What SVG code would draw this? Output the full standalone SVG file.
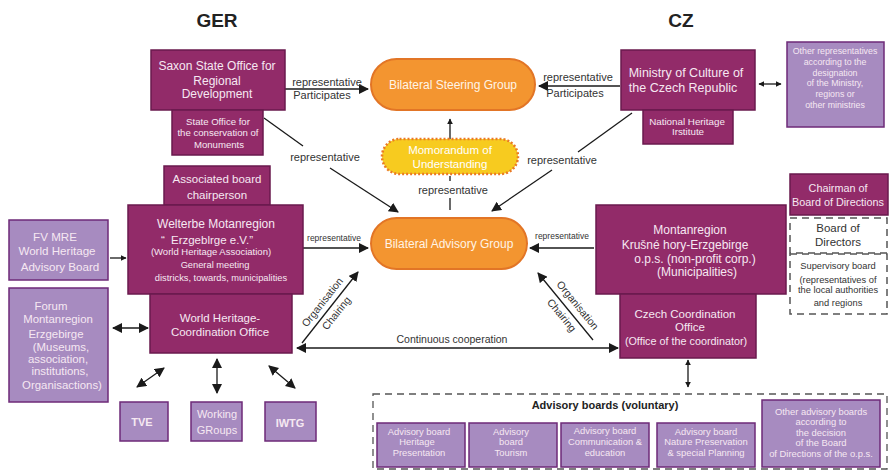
<svg xmlns="http://www.w3.org/2000/svg" width="889" height="471" viewBox="0 0 889 471">
<defs>
<marker id="ah" viewBox="0 0 10 10" refX="9" refY="5" markerWidth="10" markerHeight="10" markerUnits="userSpaceOnUse" orient="auto-start-reverse"><path d="M0,0 L10,5 L0,10 z" fill="#1a1a1a"/></marker>
<marker id="ahs" viewBox="0 0 10 10" refX="9" refY="5" markerWidth="6" markerHeight="6" markerUnits="userSpaceOnUse" orient="auto-start-reverse"><path d="M0,0 L10,5 L0,10 z" fill="#1a1a1a"/></marker>
<style>
text{font-family:"Liberation Sans",Arial,sans-serif;text-anchor:middle}
.dk{fill:#922b69;stroke:#6a1a4e;stroke-width:1.5}
.lt{fill:#a78bc0;stroke:#6e2a78;stroke-width:1.5}
.dash{fill:#fff;stroke:#555;stroke-width:1.5;stroke-dasharray:7,5}
.w{fill:#f6e8f2}
.lbl{fill:#333}
.ln{stroke:#1a1a1a;stroke-width:1.3;fill:none}
.hd{font-weight:bold;font-size:19px;fill:#222}
</style>
</defs>
<rect width="889" height="471" fill="#fff"/>
<text class="hd" x="217" y="27">GER</text>
<text class="hd" x="681" y="27">CZ</text>

<g id="connectors">
<line class="ln" x1="285" y1="89" x2="368" y2="89" marker-end="url(#ah)"/>
<line class="ln" x1="620" y1="86" x2="539" y2="86" marker-end="url(#ah)"/>
<line class="ln" x1="759" y1="84" x2="781" y2="84" marker-start="url(#ahs)" marker-end="url(#ahs)"/>
<line class="ln" x1="450" y1="139" x2="450" y2="119" marker-end="url(#ahs)"/>
<line class="ln" x1="264" y1="118" x2="303" y2="146"/>
<line class="ln" x1="330" y1="168" x2="398" y2="212" marker-end="url(#ah)"/>
<line class="ln" x1="632" y1="113" x2="578" y2="152"/>
<line class="ln" x1="552" y1="170" x2="492" y2="211" marker-end="url(#ah)"/>
<line class="ln" x1="450" y1="176" x2="450" y2="181"/>
<line class="ln" x1="450" y1="198" x2="450" y2="210"/>
<line class="ln" x1="110" y1="258" x2="126" y2="258" marker-end="url(#ahs)"/>
<line class="ln" x1="303" y1="248" x2="368" y2="248" marker-end="url(#ah)"/>
<line class="ln" x1="594" y1="248" x2="530" y2="248" marker-end="url(#ah)"/>
<line class="ln" x1="113" y1="328" x2="148" y2="328" marker-start="url(#ah)" marker-end="url(#ah)"/>
<line class="ln" x1="137" y1="387" x2="164" y2="368" marker-start="url(#ah)" marker-end="url(#ah)"/>
<line class="ln" x1="217" y1="359" x2="217" y2="393" marker-start="url(#ah)" marker-end="url(#ah)"/>
<line class="ln" x1="269" y1="366" x2="295" y2="388" marker-start="url(#ah)" marker-end="url(#ah)"/>
<line class="ln" x1="302" y1="343" x2="358" y2="272" marker-end="url(#ah)"/>
<line class="ln" x1="593" y1="340" x2="538" y2="273" marker-end="url(#ah)"/>
<line class="ln" x1="297" y1="348" x2="618" y2="348" marker-start="url(#ah)" marker-end="url(#ah)"/>
<line class="ln" x1="688" y1="360" x2="688" y2="387" marker-start="url(#ahs)" marker-end="url(#ahs)"/>
<g class="lbl" font-size="11">
<text x="327" y="86">representative</text>
<text x="322" y="99">Participates</text>
<text x="578" y="81">representative</text>
<text x="575" y="97">Participates</text>
<text x="325" y="161">representative</text>
<text x="562" y="164">representative</text>
<text x="453" y="194">representative</text>
<text x="452" y="343" font-size="10.5">Continuous cooperation</text>
</g>
<g class="lbl" font-size="8.5">
<text x="334" y="241">representative</text>
<text x="562" y="239">representative</text>
</g>
<g class="lbl" font-size="10.5">
<text transform="translate(322,302) rotate(-51.7)" x="0" y="4">Organisation</text>
<text transform="translate(336,313) rotate(-51.7)" x="0" y="4">Chairing</text>
<text transform="translate(578,305) rotate(50.6)" x="0" y="4">Organisation</text>
<text transform="translate(562,315) rotate(50.6)" x="0" y="4">Chairing</text>
</g>
</g>

<g id="steering">
<rect x="371" y="59" width="164" height="51" rx="25.5" fill="#f39530" stroke="#e27526" stroke-width="2"/>
<text x="453" y="89" font-size="12" fill="#fff4e6">Bilateral Steering Group</text>
</g>
<g id="memo">
<rect x="382" y="139" width="136" height="35" rx="17.5" fill="#f7cb1f" stroke="#ea7a24" stroke-width="2.5" stroke-dasharray="2,2"/>
<text x="450" y="154" font-size="11.5" fill="#fff">Momorandum of</text>
<text x="450" y="168" font-size="11.5" fill="#fff">Understanding</text>
</g>
<g id="advisory">
<rect x="371" y="218" width="156" height="51" rx="25.5" fill="#f39530" stroke="#e27526" stroke-width="2"/>
<text x="449" y="248" font-size="12" fill="#fff4e6">Bilateral Advisory Group</text>
</g>

<g id="saxon">
<rect class="dk" x="151" y="50" width="134" height="60"/>
<g class="w" font-size="12"><text x="217" y="70">Saxon State Office for</text><text x="217" y="85">Regional</text><text x="217" y="98">Development</text></g>
</g>
<g id="stateoffice">
<rect class="dk" x="172" y="110" width="91" height="45"/>
<g class="w" font-size="9.6"><text x="218" y="125">State Office for</text><text x="218" y="136">the conservation of</text><text x="219" y="148">Monuments</text></g>
</g>
<g id="ministry">
<rect class="dk" x="621" y="50" width="134" height="60"/>
<g class="w" font-size="12.5"><text x="686" y="77">Ministry of Culture of</text><text x="683" y="92">the Czech Republic</text></g>
</g>
<g id="nhi">
<rect class="dk" x="643" y="110" width="90" height="34"/>
<g class="w" font-size="9.8"><text x="687" y="125">National Heritage</text><text x="688" y="135">Irstitute</text></g>
</g>
<g id="otherreps">
<rect class="lt" x="787" y="42" width="97" height="85"/>
<g class="w" font-size="8.8"><text x="835" y="54">Other representatives</text><text x="835" y="65">according to the</text><text x="835" y="76">designation</text><text x="835" y="86">of the Ministry,</text><text x="835" y="97">regions or</text><text x="835" y="108">other ministries</text></g>
</g>

<g id="chairperson">
<rect class="dk" x="164" y="166" width="106" height="39"/>
<g class="w" font-size="11.5"><text x="217" y="183">Associated board</text><text x="217" y="199">chairperson</text></g>
</g>
<g id="welterbe">
<rect class="dk" x="128" y="205" width="175" height="89"/>
<g class="w"><text x="216" y="228" font-size="12">Welterbe Motanregion</text><text x="163" y="244" font-size="11.5">“</text><text x="212" y="244" font-size="11.5">Erzgeblrge e.V.”</text><text x="211" y="255" font-size="9.5">(World Heritage Association)</text><text x="215" y="268" font-size="9.3">General meeting</text><text x="221" y="281" font-size="9.3">districks, towards, municipalities</text></g>
</g>
<g id="fvmre">
<rect class="lt" x="9" y="220" width="99" height="60"/>
<g class="w" font-size="11.6"><text x="55" y="241">FV MRE</text><text x="57" y="255">World Heritage</text><text x="60" y="271">Advisory Board</text></g>
</g>
<g id="whco">
<rect class="dk" x="150" y="294" width="142" height="59"/>
<g class="w" font-size="11.5"><text x="220" y="322">World Heritage-</text><text x="220" y="336">Coordination Office</text></g>
</g>
<g id="forum">
<rect class="lt" x="9" y="288" width="99" height="114"/>
<g class="w" font-size="11.4"><text x="51" y="310">Forum</text><text x="58" y="323">Montanregion</text><text x="56" y="338">Erzgebirge</text><text x="61" y="351">(Museums,</text><text x="58" y="363">association,</text><text x="60" y="375">institutions,</text><text x="62" y="389">Organisactions)</text></g>
</g>
<g id="tve">
<rect class="lt" x="120" y="402" width="48" height="39"/>
<text class="w" x="142" y="426" font-size="11" font-weight="bold">TVE</text>
</g>
<g id="workinggroups">
<rect class="lt" x="191" y="402" width="51" height="39"/>
<g class="w" font-size="11"><text x="217" y="418">Working</text><text x="217" y="434">GRoups</text></g>
</g>
<g id="iwtg">
<rect class="lt" x="265" y="402" width="51" height="39"/>
<text class="w" x="290" y="427" font-size="11" font-weight="bold">IWTG</text>
</g>

<g id="montanregion">
<rect class="dk" x="596" y="205" width="190" height="89"/>
<g class="w" font-size="12"><text x="690" y="234">Montanregion</text><text x="685" y="249">Krušné hory-Erzgebirge</text><text x="695" y="263">o.p.s. (non-profit corp.)</text><text x="697" y="276">(Municipalities)</text></g>
</g>
<g id="czechcoord">
<rect class="dk" x="620" y="294" width="136" height="64"/>
<g class="w"><text x="685" y="318" font-size="11.5">Czech Coordination</text><text x="690" y="331" font-size="11.5">Office</text><text x="686" y="345" font-size="10.8">(Office of the coordinator)</text></g>
</g>
<g id="chairman">
<rect class="dk" x="790" y="174" width="98" height="41"/>
<g class="w" font-size="10.8"><text x="838" y="192">Chairman of</text><text x="838" y="206">Board of Directions</text></g>
</g>
<g id="boarddirectors">
<rect class="dash" x="790" y="218" width="97" height="35"/>
<g class="lbl" font-size="11.5"><text x="838" y="232">Board of</text><text x="838" y="246">Directors</text></g>
</g>
<g id="supervisory">
<rect class="dash" x="790" y="254" width="97" height="60"/>
<g class="lbl" font-size="9.3"><text x="838" y="269">Supervisory board</text><text x="838" y="283">(representatives of</text><text x="838" y="293">the local authorities</text><text x="838" y="306">and regions</text></g>
</g>

<g id="advisoryboards">
<rect x="373" y="394" width="514" height="75" fill="none" stroke="#555" stroke-width="1.3" stroke-dasharray="7,5"/>
<text x="605" y="409" font-size="11" font-weight="bold" fill="#222">Advisory boards (voluntary)</text>
</g>
<g id="ab-heritage">
<rect class="lt" x="377" y="423" width="88" height="44"/>
<g class="w" font-size="9.4"><text x="419" y="435">Advisory board</text><text x="417" y="445">Heritage</text><text x="419" y="456">Presentation</text></g>
</g>
<g id="ab-tourism">
<rect class="lt" x="469" y="423" width="88" height="44"/>
<g class="w" font-size="9.4"><text x="511" y="435">Advisory</text><text x="511" y="445">board</text><text x="511" y="456">Tourism</text></g>
</g>
<g id="ab-communication">
<rect class="lt" x="561" y="423" width="88" height="44"/>
<g class="w" font-size="9.4"><text x="605" y="434">Advisory board</text><text x="605" y="445">Communication &amp;</text><text x="605" y="456">education</text></g>
</g>
<g id="ab-nature">
<rect class="lt" x="657" y="423" width="98" height="44"/>
<g class="w" font-size="9.4"><text x="706" y="435">Advisory board</text><text x="706" y="445">Nature Preservation</text><text x="706" y="456">&amp; special Planning</text></g>
</g>
<g id="ab-other">
<rect class="lt" x="762" y="400" width="118" height="67"/>
<g class="w" font-size="9.4"><text x="821" y="415">Other advisory boards</text><text x="821" y="425">according to</text><text x="821" y="436">the decision</text><text x="821" y="446">of the Board</text><text x="821" y="457">of Directions of the o.p.s.</text></g>
</g>
</svg>
